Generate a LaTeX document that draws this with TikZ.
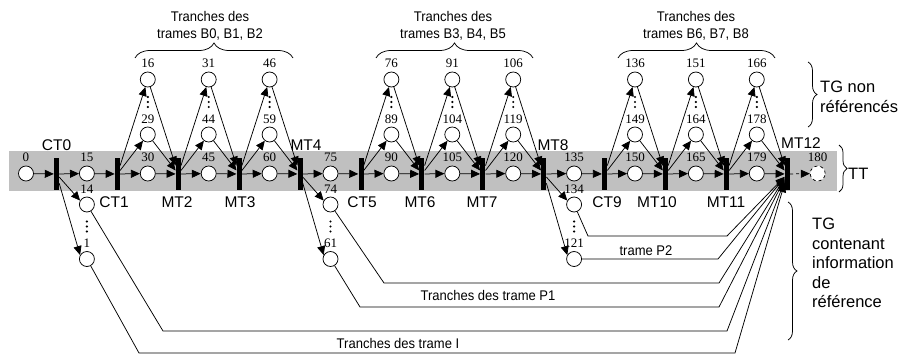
\documentclass[tikz,border=0pt]{standalone}
\usepackage{fontspec}
\setmainfont{Liberation Serif}
\newfontfamily\sansf{Liberation Sans}
\newfontfamily\narrowf[FakeStretch=0.93]{Liberation Sans}
\usetikzlibrary{arrows.meta,decorations.pathreplacing}
\definecolor{bandgray}{RGB}{192,192,192}
\begin{document}
\begin{tikzpicture}[x=1pt,y=-1pt,
  place/.style={circle,draw,fill=white,minimum size=15pt,inner sep=0pt,line width=0.75pt},
  trans/.style={rectangle,fill=black,minimum width=5pt,minimum height=32pt,inner sep=0pt},
  arc/.style={line width=0.75pt,-{Triangle[length=9pt,width=8pt]}},
  num/.style={font=\fontsize{13}{13}\selectfont,inner sep=0pt,anchor=base},
  tlab/.style={font=\sansf\fontsize{15.5}{15.5}\selectfont,inner sep=0pt,anchor=base},
  captxt/.style={font=\narrowf\fontsize{14}{17.5}\selectfont,inner sep=0pt,align=center,anchor=base},
  side/.style={font=\sansf\fontsize{16.5}{19.5}\selectfont,inner sep=0pt,align=left,anchor=west},
  mybrace/.style={decorate,decoration={brace,amplitude=#1},line width=0.75pt},
]
\useasboundingbox (0,0) rectangle (905,356);
% band
\fill[bandgray] (9,151) rectangle (837,191);
% transitions
\foreach \t [count=\k from 0] in {CT0,CT1,MT2,MT3,MT4,CT5,MT6,MT7,MT8,CT9,MT10,MT11,MT12}
  \node[trans] (\t) at ({56.5+60.9*\k},174) {};
% main places
\foreach \lab [count=\i from 0] in {0,15,30,45,60,75,90,105,120,135,150,165,179}{
  \node[place] (p\lab) at ({26+60.9*\i},173.5) {};
  \node[num] (l\lab) at ({26+60.9*\i},161.5) {\lab};
}
\node[place,dashed] (p180) at ({26+60.9*13},173.5) {};
\node[num] (l180) at ({26+60.9*13},161.5) {180};
% main arcs
\foreach \a/\b in {p0/CT0,CT0/p15,p15/CT1,CT1/p30,p30/MT2,MT2/p45,p45/MT3,MT3/p60,p60/MT4,MT4/p75,p75/CT5,CT5/p90,p90/MT6,MT6/p105,p105/MT7,MT7/p120,p120/MT8,MT8/p135,p135/CT9,CT9/p150,p150/MT10,MT10/p165,p165/MT11,MT11/p179,p179/MT12}
  \draw[arc] (\a) -- (\b);
\draw[arc,dashed] (MT12) -- (p180);
% B-frame places
\foreach \tp/\bt/\k/\a/\b in {16/29/1/CT1/MT2,31/44/2/MT2/MT3,46/59/3/MT3/MT4,76/89/5/CT5/MT6,91/104/6/MT6/MT7,106/119/7/MT7/MT8,136/149/9/CT9/MT10,151/164/10/MT10/MT11,166/178/11/MT11/MT12}{
  \node[place] (p\tp) at ({26+60.9*(\k+1)},79.5) {};
  \node[num] (l\tp) at ({26+60.9*(\k+1)},67.5) {\tp};
  \node[place] (p\bt) at ({26+60.9*(\k+1)},134.5) {};
  \node[num] (l\bt) at ({26+60.9*(\k+1)},123) {\bt};
  \foreach \yy in {97,102,107} \fill ({26+60.9*(\k+1)},\yy) circle (1.2);
  \draw[arc] (\a) -- (p\tp);
  \draw[arc] (\a) -- (p\bt);
  \draw[arc] (p\tp) -- (\b);
  \draw[arc] (p\bt) -- (\b);
}
% I / P frame places
\foreach \up/\lo/\k/\t in {14/1/1/CT0,74/61/5/MT4,134/121/9/MT8}{
  \node[place] (p\up) at ({26+60.9*\k},204.5) {};
  \node[num] (l\up) at ({26+60.9*\k},193) {\up};
  \node[place] (p\lo) at ({26+60.9*\k},259) {};
  \node[num] (l\lo) at ({26+60.9*\k},247) {\lo};
  \foreach \yy in {221.5,226.5,231.5} \fill ({26+60.9*\k},\yy) circle (1.2);
  \draw[arc] (\t) -- (p\up.150);
  \draw[arc] (\t) -- (p\lo.150);
}
% fan to MT12
\coordinate (a134) at (588,236); \coordinate (b134) at (727,236);
\coordinate (b121) at (718,259);
\coordinate (a74) at (384,283); \coordinate (b74) at (719,283);
\coordinate (a61) at (360,307); \coordinate (b61) at (719,307);
\coordinate (a14) at (163,331); \coordinate (b14) at (727,331);
\coordinate (a1) at (139,353); \coordinate (b1) at (735,353);
\draw[arc] (p134) -- (a134) -- (b134) -- (MT12);
\draw[arc] (p121) -- (b121) -- (MT12);
\draw[arc] (p74) -- (a74) -- (b74) -- (MT12);
\draw[arc] (p61) -- (a61) -- (b61) -- (MT12);
\draw[arc] (p14) -- (a14) -- (b14) -- (MT12);
\draw[arc] (p1) -- (a1) -- (b1) -- (MT12);
% transition labels
\node[tlab] (tCT0) at (56.5,150) {CT0};
\node[tlab] (tMT4) at (306,150) {MT4};
\node[tlab] (tMT8) at (553,150) {MT8};
\node[tlab] (tMT12) at (801,148.5) {MT12};
\foreach \n/\x in {CT1/114,MT2/177,MT3/240,CT5/362,MT6/420,MT7/482,CT9/607,MT10/657,MT11/726}
  \node[tlab] (t\n) at (\x,207) {\n};
% captions
\node[captxt] (c1) at (210,38.5) {Tranches des\\trames B0, B1, B2};
\node[captxt] (c2) at (453,38.5) {Tranches des\\trames B3, B4, B5};
\node[captxt] (c3) at (696,38.5) {Tranches des\\trames B6, B7, B8};
\node[captxt] (cP2) at (646,255) {trame P2};
\node[captxt] (cP1) at (488,300) {Tranches des trame P1};
\node[captxt] (cI) at (398,348) {Tranches des trame I};
% braces
\draw[mybrace=15] (135,58) -- (293,58);
\draw[mybrace=15] (376,58) -- (533,58);
\draw[mybrace=15] (618,58) -- (775,58);
\draw[mybrace=9] (808,62) -- (808,127);
\draw[mybrace=8] (839,145) -- (839,192);
\draw[mybrace=9] (788,202) -- (788,340);
% side labels
\node[side] (sNR) at (820,97) {TG non\\référencés};
\node[side] (sTT) at (848,173.5) {TT};
\node[side] (sREF) at (812,263) {TG\\contenant\\information\\de\\référence};
\end{tikzpicture}
\end{document}
